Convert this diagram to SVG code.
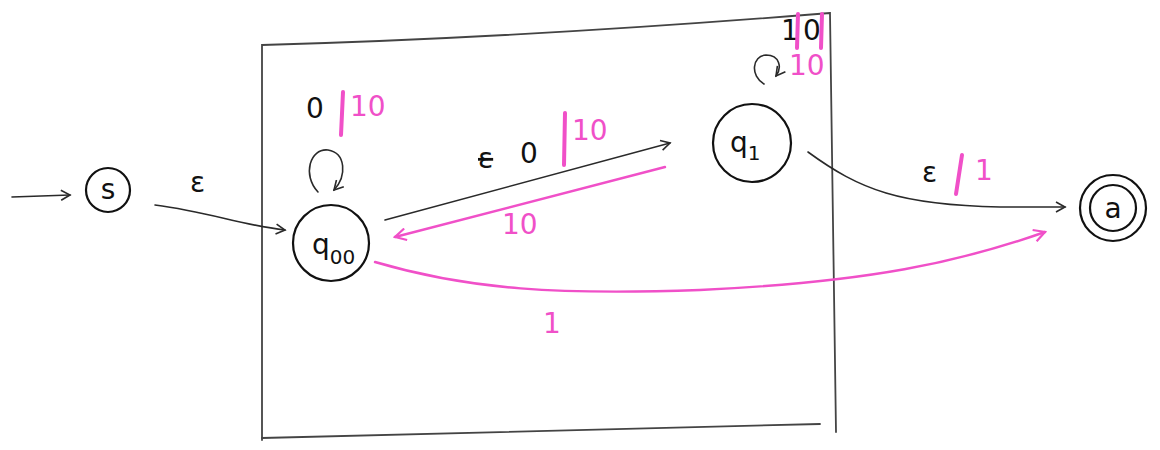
<svg xmlns="http://www.w3.org/2000/svg" width="1160" height="450" viewBox="0 0 1160 450">
<style>
.ink{fill:none;stroke:#2a2a2a;stroke-width:1.6;stroke-linecap:round}
.node{fill:none;stroke:#111;stroke-width:2.2}
.pk{fill:none;stroke:#f050c8;stroke-width:2.4;stroke-linecap:round}
.bar{stroke:#f050c8;stroke-width:4;stroke-linecap:round}
.t{font-family:"DejaVu Sans",sans-serif;font-size:28px;fill:#111}
.tp{font-family:"DejaVu Sans",sans-serif;font-size:28px;fill:#f050c8}
</style>
<defs>
<marker id="ah" viewBox="0 0 12 12" refX="10" refY="6" markerWidth="12" markerHeight="12" markerUnits="userSpaceOnUse" orient="auto">
<path d="M1,1 L10,6 L1,11" fill="none" stroke="#2a2a2a" stroke-width="1.6"/>
</marker>
<marker id="ahp" viewBox="0 0 14 14" refX="12" refY="7" markerWidth="14" markerHeight="14" markerUnits="userSpaceOnUse" orient="auto">
<path d="M1,1 L12,7 L1,13" fill="none" stroke="#f050c8" stroke-width="2.2"/>
</marker>
</defs>
<rect width="1160" height="450" fill="#fff"/>
<g id="frame" fill="none" stroke="#444" stroke-width="1.8" stroke-linecap="round">
<path d="M262,440 L262,45 Q520,38 830,13 L836,432"/>
<path d="M262,438 L820,424"/>
</g>
<g id="connectors">
<path class="ink" d="M12,197 L70,195" marker-end="url(#ah)"/>
<path class="ink" d="M155,205 C210,212 240,225 285,230" marker-end="url(#ah)"/>
<path class="ink" d="M318,192 C302,175 310,148 328,150 C346,153 347,176 334,190" marker-end="url(#ah)"/>
<path class="ink" d="M385,220 L670,143" marker-end="url(#ah)"/>
<path class="pk" d="M665,167 L395,237" marker-end="url(#ahp)"/>
<path class="pk" d="M375,262 C470,290 560,295 700,290 C870,282 960,262 1045,232" marker-end="url(#ahp)"/>
<path class="ink" d="M808,152 C860,190 900,205 1000,207 L1065,207" marker-end="url(#ah)"/>
<path class="ink" d="M764,84 C750,76 752,56 766,55 C780,55 782,68 776,76" marker-end="url(#ah)"/>
</g>
<g id="labels">
<text class="t" x="190" y="192">ε</text>
<text class="t" x="306" y="118">0</text>
<line class="bar" x1="343" y1="92" x2="341" y2="135"/>
<text class="tp" x="350" y="116">10</text>
<text class="t" x="478" y="168" text-decoration="line-through">ε</text>
<text class="t" x="520" y="163">0</text>
<line class="bar" x1="565" y1="113" x2="564" y2="165"/>
<text class="tp" x="572" y="140">10</text>
<text class="tp" x="502" y="234">10</text>
<text class="tp" x="543" y="333">1</text>
<text class="t" x="922" y="182">ε</text>
<line class="bar" x1="962" y1="155" x2="956" y2="194"/>
<text class="tp" x="975" y="180">1</text>
<text class="t" x="781" y="40" font-size="19">1</text>
<line class="bar" x1="798" y1="14" x2="797" y2="48" stroke-width="3"/>
<text class="t" x="803" y="40" font-size="19">0</text>
<line class="bar" x1="822" y1="14" x2="821" y2="48" stroke-width="3"/>
<text class="tp" x="789" y="75" font-size="18">10</text>
</g>
<g id="node-s">
<circle class="node" cx="108" cy="190" r="22"/>
<text class="t" x="108" y="199" text-anchor="middle" font-size="26">s</text>
</g>
<g id="node-q0">
<circle class="node" cx="331" cy="243" r="38"/>
<text class="t" x="312" y="254" font-size="34">q<tspan font-size="20" dy="10">00</tspan></text>
</g>
<g id="node-q1">
<circle class="node" cx="752" cy="143" r="39"/>
<text class="t" x="730" y="152" font-size="34">q<tspan font-size="20" dy="8">1</tspan></text>
</g>
<g id="node-a">
<circle class="node" cx="1113" cy="208" r="33"/>
<circle class="node" cx="1113" cy="208" r="23"/>
<text class="t" x="1113" y="218" text-anchor="middle" font-size="28">a</text>
</g>
</svg>
